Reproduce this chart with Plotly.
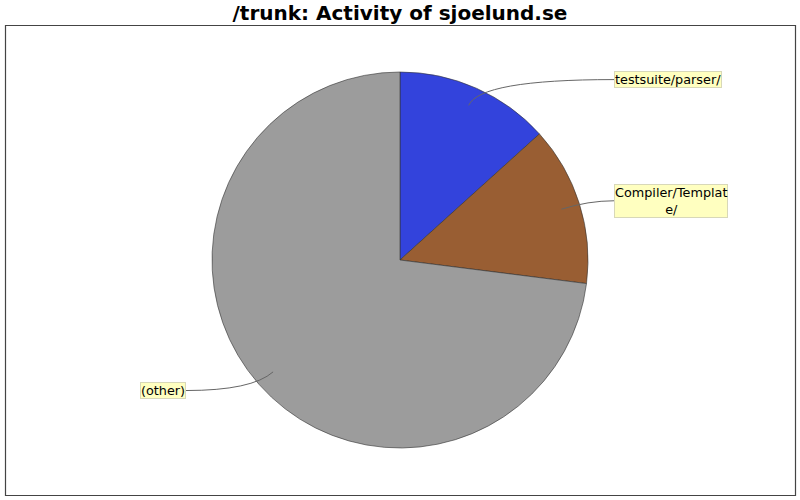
import math
import plotly.graph_objects as go

# ---- data ----
labels = ["testsuite/parser/", "Compiler/Template/", "(other)"]
label_text = ["testsuite/parser/", "Compiler/Templat<br>e/", "(other)"]
values = [13.3, 13.7, 73.0]
colors = ["#3343DC", "#995E33", "#9C9C9C"]

# ---- layout geometry (pixels) ----
W, H = 800, 500
cx, cy, R = 400, 260, 188
label_dx = 214

fig = go.Figure()
fig.add_trace(go.Pie(
    labels=labels, values=values, sort=False, direction="clockwise", rotation=0,
    marker=dict(colors=colors, line=dict(color="#333333", width=0.6)),
    textinfo="none", hoverinfo="label+percent", showlegend=False,
    domain=dict(x=[(cx - R) / W, (cx + R) / W], y=[1 - (cy + R) / H, 1 - (cy - R) / H]),
))

shapes = [dict(type="rect", xref="x", yref="y", x0=5.5, y0=25.5, x1=795.5, y1=495.5,
               line=dict(color="#444444", width=1.2), layer="below")]
annotations = []
total = sum(values)
start = 0.0
for lab, val in zip(label_text, values):
    frac = val / total
    mid = (start + frac / 2) * 2 * math.pi
    start += frac
    s, c = math.sin(mid), math.cos(mid)
    x0, y0 = cx + 0.9 * R * s, cy - 0.9 * R * c
    ex, ey = cx + 1.05 * R * s, cy - 1.05 * R * c
    right = s >= 0
    lx = cx + label_dx if right else cx - label_dx
    shapes.append(dict(type="path", xref="x", yref="y",
                       path=f"M {x0:.2f},{y0:.2f} Q {ex:.2f},{ey:.2f} {lx:.2f},{ey:.2f}",
                       line=dict(color="#666666", width=1)))
    annotations.append(dict(x=lx, y=ey, xref="x", yref="y", text=lab, showarrow=False,
                            xanchor="left" if right else "right", yanchor="middle",
                            align="center", bgcolor="#FFFFC0", bordercolor="#D8D8B8",
                            borderwidth=1, borderpad=0,
                            font=dict(family="DejaVu Sans", size=12.8, color="#000000")))

fig.update_layout(
    width=W, height=H, margin=dict(l=0, r=0, t=0, b=0),
    paper_bgcolor="white", plot_bgcolor="rgba(0,0,0,0)",
    xaxis=dict(range=[0, W], visible=False, fixedrange=True),
    yaxis=dict(range=[H, 0], visible=False, fixedrange=True),
    shapes=shapes, annotations=annotations,
    title=dict(text="<b>/trunk: Activity of sjoelund.se</b>", x=0.5, xanchor="center",
               y=1 - 13 / H, yanchor="middle",
               font=dict(family="DejaVu Sans", size=20, color="#000000")),
)
fig.write_html("out.html", config={"displayModeBar": False},
               post_script="document.body.style.margin='0';")
